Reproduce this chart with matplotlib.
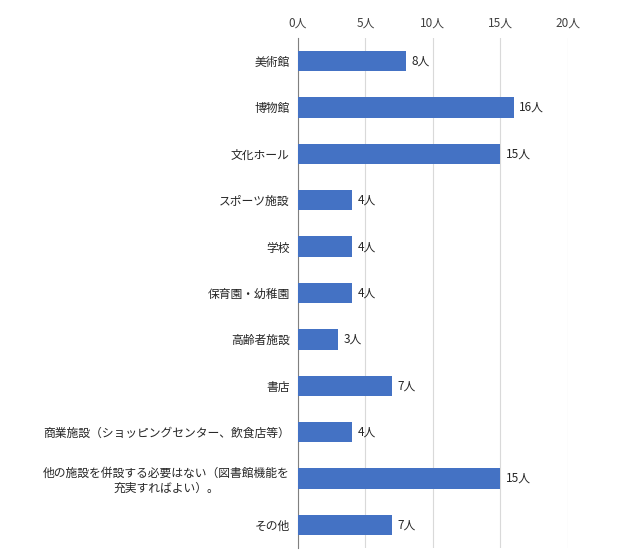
import matplotlib
matplotlib.use('Agg')
import matplotlib.pyplot as plt

plt.rcParams['font.family'] = 'Noto Sans CJK JP'

categories = ['美術館', '博物館', '文化ホール', 'スポーツ施設', '学校', '保育園・幼稚園',
              '高齢者施設', '書店', '商業施設（ショッピングセンター、飲食店等）',
              '他の施設を併設する必要はない（図書館機能を\n充実すればよい）。', 'その他']
values = [8, 16, 15, 4, 4, 4, 3, 7, 4, 15, 7]
ticks = [0, 5, 10, 15, 20]
tick_labels = ['0人', '5人', '10人', '15人', '20人']

fig = plt.figure(figsize=(6.26, 5.57), dpi=100)
ax = fig.add_axes([0.476, 0.016, 0.431, 0.916])
y = list(range(len(categories)))
ax.barh(y, values, height=0.44, color='#4472C4', zorder=3)
for yi, v in zip(y, values):
    ax.text(v + 0.4, yi, f'{v}人', va='center', ha='left', fontsize=8.5, color='#262626')
ax.set_xlim(0, 20)
ax.set_ylim(len(categories) - 0.5, -0.5)
ax.set_xticks(ticks)
ax.set_xticklabels(tick_labels, fontsize=8.5, color='#404040')
ax.xaxis.tick_top()
ax.set_yticks(y)
ax.set_yticklabels(categories, fontsize=8.5, color='#262626')
for lbl in ax.get_yticklabels():
    lbl.set_multialignment('center')
ax.tick_params(length=0, pad=6)
ax.grid(axis='x', color='#D9D9D9', linewidth=0.8, zorder=0)
for s in ['top', 'right', 'bottom']:
    ax.spines[s].set_visible(False)
ax.spines['left'].set_color('#808080')
fig.savefig('out.png')
